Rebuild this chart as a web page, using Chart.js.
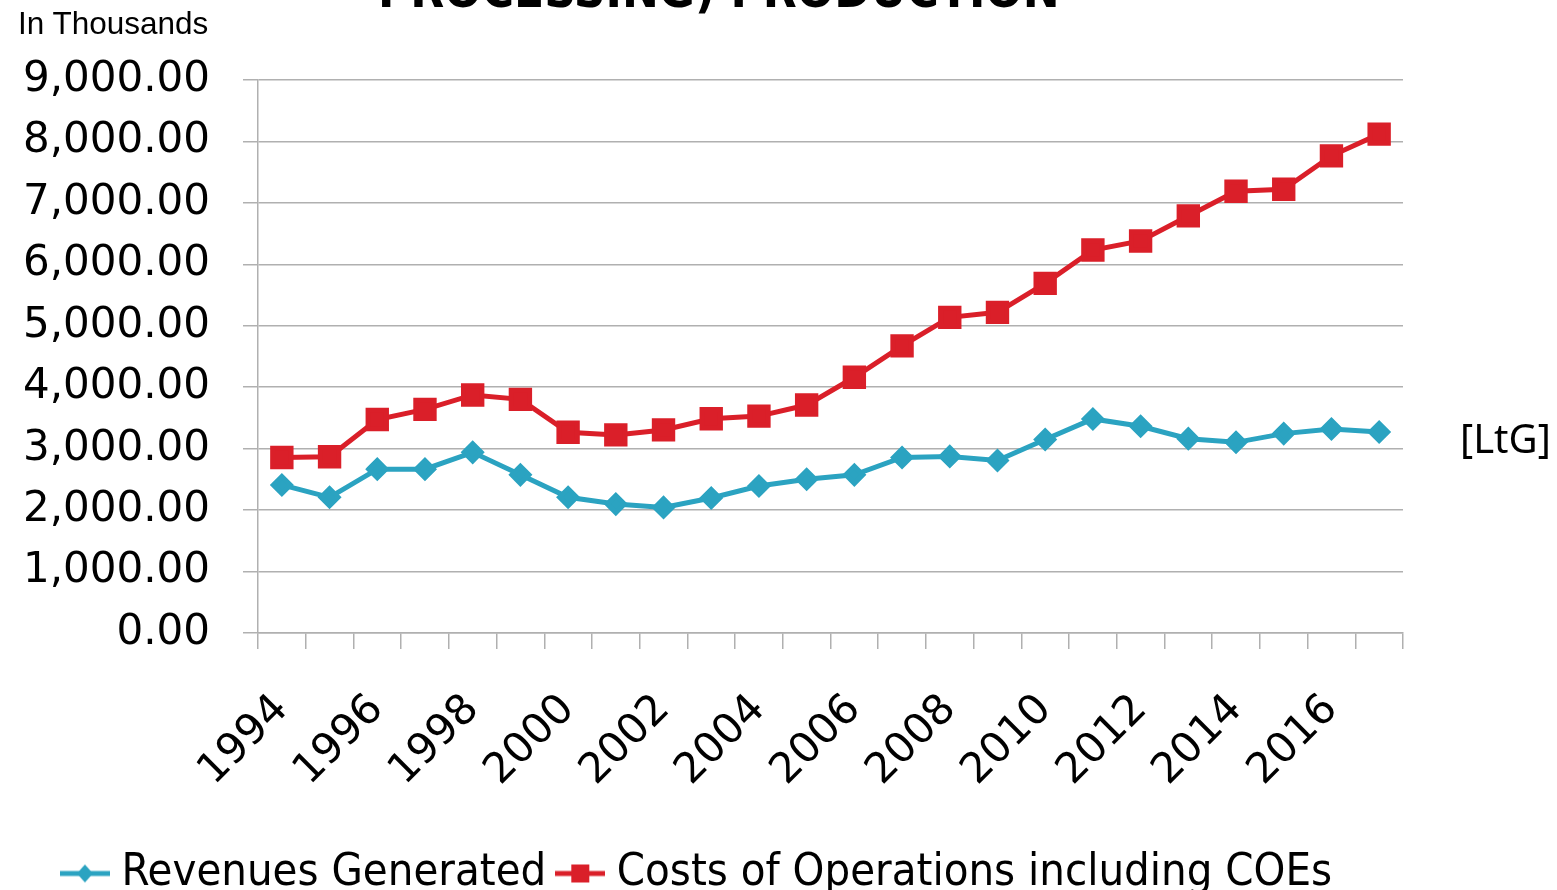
<!DOCTYPE html>
<html>
<head>
<meta charset="utf-8">
<script src="https://cdn.jsdelivr.net/npm/chart.js@4/dist/chart.umd.min.js"></script>
<style>
    html, body { margin: 0; padding: 0; background: #fff; overflow: hidden; }
    #wrap { position: relative; width: 1557px; height: 906px; }
    #title {
        position: absolute; left: 378px; top: -34px;
        font: bold 49px "DejaVu Sans Condensed", "DejaVu Sans", sans-serif;
        color: #000; white-space: nowrap; line-height: 50px;
    }
    #units {
        position: absolute; left: 18px; top: 5px;
        font: 31.5px "Liberation Sans", Arial, sans-serif; color: #000;
    }
    #tag {
        position: absolute; left: 1460px; top: 410px;
        font: 40px "Noto Sans", sans-serif; color: #000;
    }
</style>
</head>
<body>
<div id="wrap">
    <canvas id="chart" width="1557" height="906"></canvas>
    <div id="title">PROCESSING) PRODUCTION</div>
    <div id="units">In Thousands</div>
    <div id="tag">[LtG]</div>
</div>
<script>
// años 1994 - 2017
const years = ['1994', '1995', '1996', '1997', '1998', '1999', '2000', '2001', '2002', '2003', '2004', '2005',
    '2006', '2007', '2008', '2009', '2010', '2011', '2012', '2013', '2014', '2015', '2016', '2017'];
const revenues = [2410, 2208, 2667, 2667, 2940, 2574, 2208, 2098, 2044, 2197, 2393, 2503,
    2574, 2857, 2874, 2808, 3148, 3484, 3364, 3163, 3103, 3245, 3321, 3272];
const costs = [2857, 2869, 3475, 3639, 3874, 3803, 3267, 3224, 3305, 3486, 3530, 3710,
    4162, 4672, 5137, 5219, 5690, 6233, 6380, 6788, 7190, 7222, 7766, 8119];
const series_names = ['Revenues Generated', 'Costs of Operations including COEs'];

const BLUE = '#2ba3c1';
const RED = '#da1f29';
const GRID = '#b0b0b0';

// little line + marker for the legend
function legend_icon(color, shape) {
    const c = document.createElement('canvas');
    c.width = 50;
    c.height = 26;
    const ctx = c.getContext('2d');
    ctx.strokeStyle = color;
    ctx.fillStyle = color;
    ctx.lineWidth = 5;
    ctx.beginPath();
    ctx.moveTo(0, 13);
    ctx.lineTo(50, 13);
    ctx.stroke();
    ctx.beginPath();
    if (shape === 'diamond') {
        ctx.moveTo(25, 4);
        ctx.lineTo(33, 13);
        ctx.lineTo(25, 22);
        ctx.lineTo(17, 13);
    } else {
        ctx.rect(16, 4, 18, 18);
    }
    ctx.closePath();
    ctx.fill();
    return c;
}
const icons = [legend_icon(BLUE, 'diamond'), legend_icon(RED, 'square')];

const config = {
    type: 'line',
    data: {
        labels: years,
        datasets: [{
            label: series_names[0],
            data: revenues,
            borderColor: BLUE,
            backgroundColor: BLUE,
            borderWidth: 5,
            pointStyle: 'rectRot',
            pointRadius: 8.5,
            pointHoverRadius: 8.5,
            tension: 0
        }, {
            label: series_names[1],
            data: costs,
            borderColor: RED,
            backgroundColor: RED,
            borderWidth: 5,
            pointStyle: 'rect',
            pointRadius: 13,
            pointHoverRadius: 13,
            tension: 0
        }]
    },
    options: {
        responsive: false,
        animation: false,
        layout: { padding: { top: 80, right: 154, left: 0, bottom: 0 } },
        plugins: {
            title: { display: false },
            tooltip: { enabled: false },
            legend: {
                position: 'bottom',
                labels: {
                    usePointStyle: true,
                    pointStyleWidth: 28,
                    padding: 20,
                    color: '#000',
                    font: { family: '"DejaVu Sans Condensed", "DejaVu Sans", sans-serif', size: 45 },
                    generateLabels: (chart) => chart.data.datasets.map((ds, i) => ({
                        text: ds.label,
                        pointStyle: icons[i],
                        fillStyle: ds.borderColor,
                        strokeStyle: ds.borderColor,
                        lineWidth: 0,
                        fontColor: '#000',
                        datasetIndex: i
                    }))
                }
            }
        },
        scales: {
            x: {
                offset: true,
                border: { display: true, color: GRID, width: 1.5 },
                grid: {
                    offset: true,
                    drawOnChartArea: false,
                    drawTicks: true,
                    tickLength: 16,
                    color: GRID,
                    lineWidth: 1.5
                },
                ticks: {
                    autoSkip: false,
                    minRotation: 45,
                    maxRotation: 45,
                    padding: 36,
                    color: '#000',
                    font: { family: '"DejaVu Sans", sans-serif', size: 42 },
                    callback: (value, index) => index % 2 === 0 ? years[index] : ''
                },
                afterFit: (scale) => { scale.height = 198; }
            },
            y: {
                min: 0,
                max: 9000,
                border: { display: true, color: GRID, width: 1.5 },
                grid: {
                    color: GRID,
                    lineWidth: 1.5,
                    tickLength: 15
                },
                ticks: {
                    stepSize: 1000,
                    padding: 33,
                    color: '#000',
                    font: { family: '"DejaVu Sans", sans-serif', size: 42 },
                    callback: (value) => Number(value).toLocaleString('en-US', { minimumFractionDigits: 2, maximumFractionDigits: 2 })
                },
                afterFit: (scale) => { scale.width = 258; }
            }
        }
    }
};

new Chart(document.getElementById('chart'), config);
</script>
</body>
</html>
